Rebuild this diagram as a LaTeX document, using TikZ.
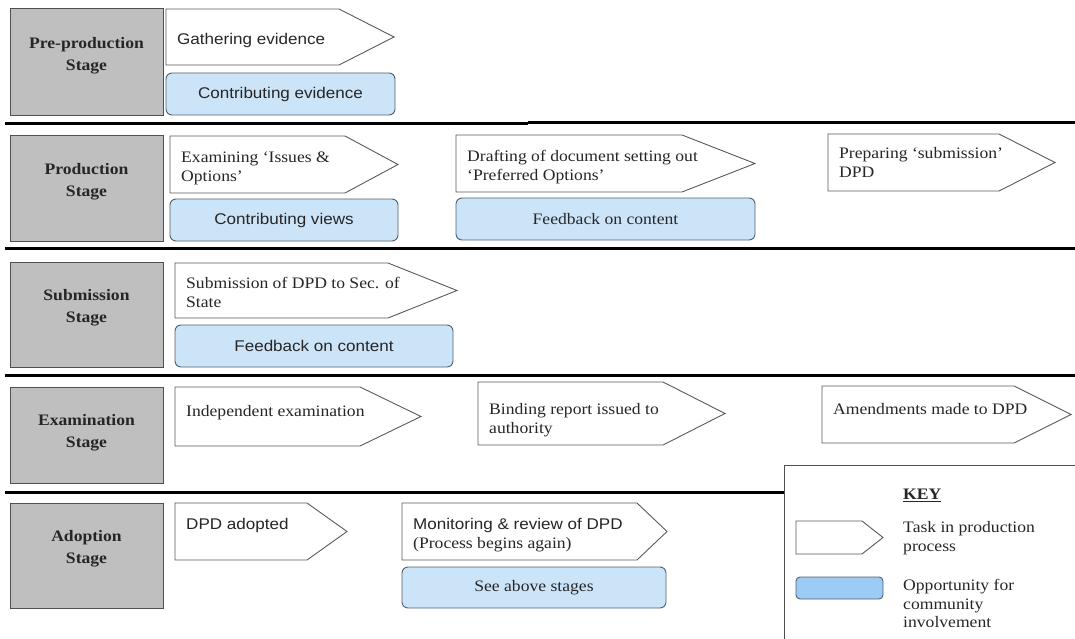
\documentclass[tikz,border=0pt]{standalone}
\usepackage{fontspec}
\setmainfont[FakeStretch=1.1]{Liberation Serif}
\setsansfont[FakeStretch=1.1]{Liberation Sans}
\definecolor{stagegrey}{HTML}{BFBFBF}
\definecolor{stageedge}{HTML}{505050}
\definecolor{taskedge}{HTML}{5A5A5A}
\definecolor{chanceblue}{HTML}{CCE4F8}
\definecolor{keyblue}{HTML}{9CCBF3}
\definecolor{chanceedge}{HTML}{4F5F70}
\definecolor{textgrey}{HTML}{262626}
\begin{document}
\begin{tikzpicture}[x=1pt,y=-1pt,
		stage/.style={draw=stageedge, fill=stagegrey, line width=1pt, minimum width=153pt},
		stagelabel/.style={font=\bfseries\fontsize{16}{22}\selectfont, align=center, inner sep=0pt,
				text=textgrey},
		task/.style={draw=taskedge, fill=white, line width=0.9pt},
		tasktext/.style={anchor=north west, align=left, inner sep=0pt, text=textgrey,
				font=\fontsize{16}{19}\selectfont},
		tasksans/.style={tasktext, font=\sffamily\fontsize{15.5}{19}\selectfont},
		chance/.style={draw=chanceedge, fill=chanceblue, rounded corners=6pt, line width=0.9pt,
				inner sep=0pt, text=textgrey, font=\fontsize{16}{19}\selectfont},
		chancesans/.style={chance, font=\sffamily\fontsize{15.5}{19}\selectfont},
		divider/.style={line width=3pt, black},
	]
	\useasboundingbox (0,0) rectangle (1075,639);

	% stage boxes down the left side
	\node[stage, minimum height=107pt] (prebox) at (86.5,62.5) {};
	\node[stage, minimum height=105pt] (prodbox) at (86.5,188.5) {};
	\node[stage, minimum height=105pt] (subbox) at (86.5,314.5) {};
	\node[stage, minimum height=96pt] (exambox) at (86.5,435) {};
	\node[stage, minimum height=105pt] (adoptbox) at (86.5,555.5) {};
	\node[stagelabel] (pre) at ([yshift=7pt]prebox.center) {Pre-production\\Stage};
	\node[stagelabel] (prod) at ([yshift=7pt]prodbox.center) {Production\\Stage};
	\node[stagelabel] (sub) at ([yshift=7pt]subbox.center) {Submission\\Stage};
	\node[stagelabel] (exam) at ([yshift=2pt]exambox.center) {Examination\\Stage};
	\node[stagelabel] (adopt) at ([yshift=7pt]adoptbox.center) {Adoption\\Stage};

	% dividers
	\draw[divider] (5,124) -- (528,124);
	\draw[divider] (528,122.5) -- (1075,122.5);
	\draw[divider] (5,248) -- (1075,248);
	\draw[divider] (5,375) -- (1075,375);
	\draw[divider] (5,492) -- (784,492);

	% task arrows: left/top/shoulder/tip/bottom
	\foreach \l/\t/\s/\p/\b in {166/9/339/394/65, 170/136/345/398/193, 456/135/682/755/192,
			828/134/999/1055/191, 175/263/388/457/318, 175/387/360/421/446, 478/382/663/725/445,
			822/386/1014/1071/443, 175/503/307/347/560, 402/503/637/667/560} {
			\draw[task] (\l,\t) -- (\s,\t) -- (\p,{(\t+\b)/2}) -- (\s,\b) -- (\l,\b) -- cycle;
		}
	\node[tasksans] (gather) at (177,33.5) {Gathering evidence};
	\node[tasktext] (examine) at (181,151.5) {Examining ‘Issues \&\\Options’};
	\node[tasktext] (draft) at (467,150) {Drafting of document setting out\\‘Preferred Options’};
	\node[tasktext] (prepare) at (839,147.5) {Preparing ‘submission’\\DPD};
	\node[tasktext] (submit) at (186,277.5) {Submission of DPD to Sec. of\\State};
	\node[tasktext] (indep) at (186,405.5) {Independent examination};
	\node[tasktext] (binding) at (489,403.5) {Binding report issued to\\authority};
	\node[tasktext] (amend) at (833,403.5) {Amendments made to DPD};
	\node[tasksans] (adopted) at (186,518.5) {DPD adopted};
	\node[tasktext] (monitor) at (413,518.5) {{\sffamily\fontsize{15.5}{19}\selectfont Monitoring \& review of DPD}\\(Process begins again)};

	% chances for community involvement
	\node[chancesans, minimum width=229pt, minimum height=42pt] (contribev) at (280.5,94) {Contributing evidence};
	\node[chancesans, minimum width=228pt, minimum height=42pt] (contribviews) at (284,220) {Contributing views};
	\node[chance, minimum width=299pt, minimum height=42pt] (feedprod) at (605.5,219) {Feedback on content};
	\node[chancesans, minimum width=278pt, minimum height=42pt] (feedsub) at (314,346) {Feedback on content};
	\node[chance, minimum width=264pt, minimum height=41pt] (seeabove) at (534,587.5) {See above stages};

	% key
	\draw[stageedge, line width=1pt] (784,639) -- (784,465) -- (1075,465);
	\node[tasktext, font=\bfseries\fontsize{16}{19}\selectfont] (key) at (903,489) {\underline{KEY}};
	\draw[task] (796,521) -- (862,521) -- (883,537.5) -- (862,554) -- (796,554) -- cycle;
	\node[tasktext, font=\fontsize{16}{18.5}\selectfont] (keytask) at (903,521.5) {Task in production\\process};
	\node[chance, fill=keyblue, rounded corners=4pt, minimum width=87pt, minimum height=22pt] (keychance) at (839.5,588) {};
	\node[tasktext, font=\fontsize{16}{18.5}\selectfont] (keyinvolve) at (903,579.5) {Opportunity for\\community\\involvement};
\end{tikzpicture}
\end{document}
